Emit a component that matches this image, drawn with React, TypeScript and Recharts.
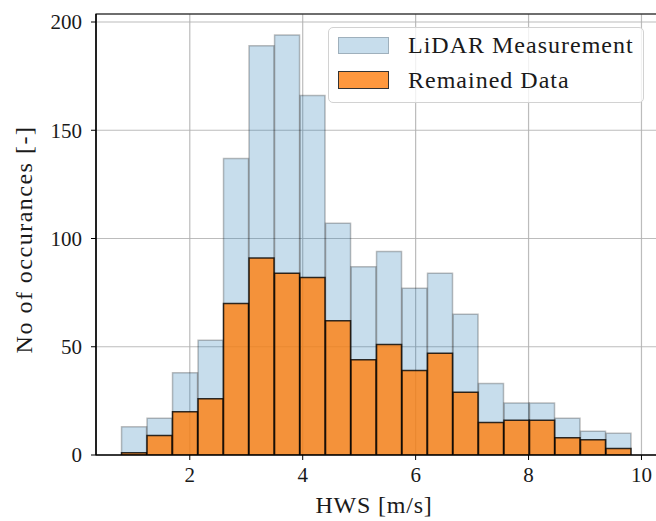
import React from 'react';
import {
  BarChart,
  Bar,
  XAxis,
  YAxis,
  CartesianGrid,
  Legend,
  ReferenceArea,
} from 'recharts';

// Histogram bin centres (HWS, m/s)
const binCenters = [
  1.017, 1.468, 1.92, 2.372, 2.823, 3.275, 3.727, 4.178, 4.63, 5.081,
  5.533, 5.985, 6.436, 6.888, 7.339, 7.791, 8.243, 8.694, 9.146, 9.597,
];
// Counts per bin
const lidarCounts = [13, 17, 38, 53, 137, 189, 194, 166, 107, 87, 94, 77, 84, 65, 33, 24, 24, 17, 11, 10];
const remainedCounts = [1, 9, 20, 26, 70, 91, 84, 82, 62, 44, 51, 39, 47, 29, 15, 16, 16, 8, 7, 3];

const xTicks = [2, 4, 6, 8, 10];
const yTicks = [0, 50, 100, 150, 200];
const xDomain: [number, number] = [0.339, 10.275];
const yDomain: [number, number] = [0, 203.7];

const seriesNames = ['LiDAR Measurement', 'Remained Data'];

const data = binCenters.map((x, i) => ({
  hws: x,
  lidar: lidarCounts[i],
  remained: remainedCounts[i],
}));

const FONT = '"Liberation Serif", "Times New Roman", serif';
const TEXT = '#1a1a1a';

const LegendBox = () => (
  <div
    style={{
      position: 'relative',
      width: 316,
      height: 76,
      boxSizing: 'border-box',
      border: '1px solid #d2d2d2',
      borderRadius: 5,
      background: 'rgba(255,255,255,0.8)',
      fontFamily: FONT,
      fontSize: 24,
      lineHeight: '24px',
      color: TEXT,
    }}
  >
    <div
      style={{
        position: 'absolute',
        left: 9,
        top: 9,
        width: 51,
        height: 17,
        boxSizing: 'border-box',
        background: '#c7ddec',
        border: '1.5px solid #9fb0bc',
      }}
    />
    <span style={{ position: 'absolute', left: 79, top: 5, letterSpacing: 1, whiteSpace: 'nowrap' }}>
      {seriesNames[0]}
    </span>
    <div
      style={{
        position: 'absolute',
        left: 9,
        top: 43,
        width: 51,
        height: 18,
        boxSizing: 'border-box',
        background: '#ff983e',
        border: '1.5px solid #333',
      }}
    />
    <span style={{ position: 'absolute', left: 79, top: 40, letterSpacing: 1, whiteSpace: 'nowrap' }}>
      {seriesNames[1]}
    </span>
  </div>
);

const XLabel = (props: any) => {
  const vb = props.viewBox || { x: 96, y: 455, width: 561, height: 66 };
  const x = vb.x + vb.width / 2 - 2.5;
  const y = vb.y + vb.height - 8;
  return (
    <text x={x} y={y} textAnchor="middle" fontFamily={FONT} fontSize={24} fill={TEXT} letterSpacing={0.8}>
      HWS [m/s]
    </text>
  );
};

const YLabel = (props: any) => {
  const vb = props.viewBox || { x: 0, y: 14, width: 96, height: 441 };
  const x = vb.x + 32;
  const y = vb.y + vb.height / 2 + 5;
  return (
    <text
      x={x}
      y={y}
      transform={`rotate(-90 ${x} ${y})`}
      textAnchor="middle"
      fontFamily={FONT}
      fontSize={24}
      fill={TEXT}
      letterSpacing={1.5}
    >
      No of occurances [-]
    </text>
  );
};

export default function App() {
  return (
    <div
      style={{
        position: 'absolute',
        left: 0,
        top: 0,
        width: 656,
        height: 521,
        overflow: 'hidden',
        background: '#fff',
      }}
    >
      <BarChart
        width={662}
        height={521}
        data={data}
        margin={{ top: 14, right: 5, bottom: 0, left: 0 }}
        barCategoryGap={0}
        barGap={0}
      >
        <XAxis
          dataKey="hws"
          type="number"
          domain={xDomain}
          ticks={xTicks}
          allowDataOverflow
          height={66}
          tickSize={5}
          tickMargin={7}
          axisLine={{ stroke: '#000', strokeWidth: 1.2 }}
          tickLine={{ stroke: '#000', strokeWidth: 1 }}
          tick={{ fill: TEXT, fontSize: 21, fontFamily: FONT }}
          label={{ content: XLabel }}
        />
        <XAxis xAxisId="top" dataKey="hws" type="number" domain={xDomain} allowDataOverflow hide />
        <YAxis
          type="number"
          domain={yDomain}
          ticks={yTicks}
          allowDataOverflow
          width={96}
          tickSize={5}
          tickMargin={9}
          axisLine={{ stroke: '#000', strokeWidth: 1.2 }}
          tickLine={{ stroke: '#000', strokeWidth: 1 }}
          tick={{ fill: TEXT, fontSize: 21, fontFamily: FONT }}
          label={{ content: YLabel }}
        />
        <Bar
          dataKey="lidar"
          name={seriesNames[0]}
          fill="#1f77b4"
          fillOpacity={0.25}
          stroke="#000"
          strokeOpacity={0.25}
          strokeWidth={1.5}
          isAnimationActive={false}
        />
        <Bar
          dataKey="remained"
          name={seriesNames[1]}
          xAxisId="top"
          fill="#ff7f0e"
          fillOpacity={0.8}
          stroke="#000"
          strokeOpacity={0.8}
          strokeWidth={1.5}
          isAnimationActive={false}
        />
        <CartesianGrid stroke="#b0b0b0" strokeOpacity={0.85} strokeWidth={1.2} />
        <ReferenceArea
          x1={xDomain[0]}
          x2={xDomain[1]}
          y1={yDomain[0]}
          y2={yDomain[1]}
          fill="none"
          stroke="#000"
          strokeWidth={1.2}
        />
        <Legend
          layout="vertical"
          align="center"
          verticalAlign="middle"
          wrapperStyle={{ left: 328, top: 27, width: 316, height: 76 }}
          content={() => <LegendBox />}
        />
      </BarChart>
    </div>
  );
}
